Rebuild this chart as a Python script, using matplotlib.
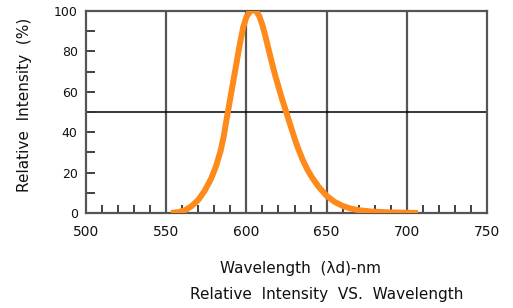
import matplotlib
matplotlib.use("Agg")
import matplotlib.pyplot as plt
import numpy as np

wavelength = [553, 558, 562, 566, 570, 574, 578, 581, 584, 586, 588, 590, 592, 594,
              596, 598, 600, 602, 604, 606, 608, 610, 612, 614, 616, 618, 620, 622,
              624, 626, 628, 630, 632, 635, 638, 641, 645, 650, 655, 660, 665, 670,
              678, 690, 707]
intensity = [0, 0.5, 1.5, 3.5, 6.5, 11, 17, 23, 31, 38.5, 48, 57, 66, 75,
             84, 92, 97, 99.5, 100.5, 100, 97.5, 93, 87, 80.5, 74, 68, 62.5, 57,
             52, 47, 42, 37, 32.5, 26.5, 21.5, 17.5, 13, 8.5, 5.5, 3.5, 2.2, 1.4,
             0.7, 0.3, 0]

x_major = [500, 550, 600, 650, 700, 750]
y_major = [0, 20, 40, 60, 80, 100]
x_grid = [550, 600, 650, 700]
y_grid = [50]

fig = plt.figure(figsize=(5.13, 3.08), dpi=100)
ax = fig.add_axes([86/513, 1-213/308, 401/513, 202/308])

for xv in x_grid:
    ax.axvline(xv, color="#555555", lw=1.6, zorder=1)
for yv in y_grid:
    ax.axhline(yv, color="black", lw=1.1, zorder=1)

ax.plot(wavelength, intensity, color="#FF8A1C", lw=4.3, solid_capstyle="butt",
        solid_joinstyle="round", zorder=3)

ax.set_xlim(500, 750)
ax.set_ylim(0, 100)
ax.set_xticks(x_major)
ax.set_yticks(y_major)
ax.set_xticks([v for v in range(510, 750, 10) if v % 50 != 0], minor=True)
ax.set_yticks([v for v in range(10, 100, 10) if v % 20 != 0], minor=True)

ax.tick_params(axis="x", which="major", direction="in", length=0, pad=9,
               labelsize=10, labelcolor="#111111")
ax.tick_params(axis="x", which="minor", direction="in", length=6, width=1.3,
               color="#333333")
ax.tick_params(axis="y", which="both", direction="in", length=6.5, width=1.3,
               color="#333333", pad=6, labelsize=9, labelcolor="#111111")

for s in ax.spines.values():
    s.set_color("#555555")
    s.set_linewidth(1.6)

fig.text(25/513, 1-105/308, "Relative  Intensity  (%)", rotation=90,
         ha="center", va="center", fontsize=11, color="#111111")
fig.text(300/513, 1-268/308, "Wavelength  (λd)-nm", ha="center", va="center",
         fontsize=11, color="#111111")
fig.text(327/513, 1-295/308, "Relative  Intensity  VS.  Wavelength", ha="center",
         va="center", fontsize=11, color="#111111")

fig.savefig("out.png", dpi=100)
